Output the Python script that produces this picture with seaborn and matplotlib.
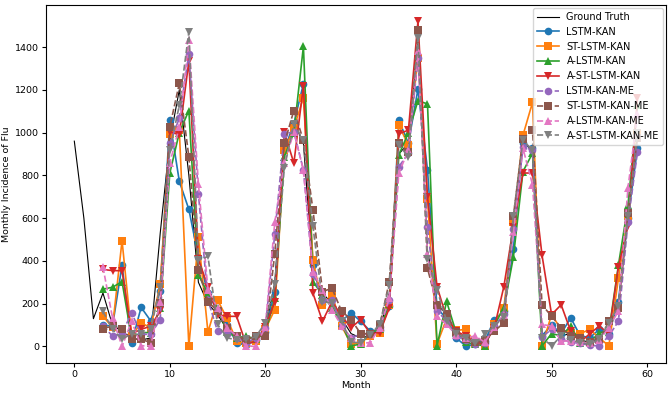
import matplotlib
matplotlib.use("Agg")
import matplotlib.pyplot as plt
import seaborn as sns
import numpy as np

months_truth = list(range(0, 60))
months_pred = list(range(3, 60))

ground_truth = [960, 600, 130, 250, 100, 70, 40, 30, 40, 530,
                960, 1200, 800, 300, 200, 150, 80, 50, 20, 30,
                70, 300, 900, 1050, 950, 350, 250, 200, 130, 60,
                40, 50, 80, 250, 900, 950, 1420, 450, 200, 150,
                60, 40, 20, 30, 90, 150, 600, 950, 920, 50,
                100, 50, 60, 30, 20, 40, 90, 200, 600, 1000]

lstm_kan = [100, 95, 380, 15, 183, 120, 260, 1057, 772, 641,
            418, 250, 165, 100, 18, 5, 30, 70, 257, 920,
            1041, 1229, 380, 200, 226, 120, 157, 118, 72, 75,
            188, 1057, 950, 1203, 826, 180, 130, 40, 3, 10,
            25, 126, 165, 457, 950, 926, 49, 100, 60, 134,
            50, 41, 80, 60, 210, 600, 926]

st_lstm_kan = [141, 90, 495, 50, 110, 88, 290, 995, 1010, 0,
               510, 67, 218, 131, 26, 15, 25, 80, 172, 918,
               1020, 1164, 403, 195, 241, 95, 11, 18, 50, 65,
               195, 1034, 941, 1349, 688, 11, 130, 75, 80, 15,
               3, 105, 180, 580, 987, 1141, 3, 149, 80, 60,
               60, 80, 40, 3, 318, 610, 1000]

a_lstm_kan = [268, 277, 303, 40, 65, 65, 180, 810, 1000, 1103,
              334, 249, 180, 70, 40, 49, 35, 60, 226, 887,
              1000, 1403, 303, 241, 180, 110, 3, 11, 65, 80,
              200, 895, 1000, 1149, 1134, 3, 211, 65, 20, 10,
              3, 100, 180, 418, 818, 903, 3, 60, 50, 95,
              15, 20, 65, 70, 380, 660, 1127]

a_st_lstm_kan = [360, 355, 354, 60, 80, 95, 165, 1003, 990, 1334,
                 407, 280, 149, 141, 141, 10, 25, 90, 210, 1003,
                 857, 1218, 249, 118, 210, 141, 88, 126, 60, 65,
                 180, 995, 1011, 1520, 700, 280, 134, 72, 49, 20,
                 10, 88, 280, 560, 811, 811, 426, 149, 195, 72,
                 20, 60, 95, 60, 372, 564, 1164]

lstm_kan_me = [98, 48, 60, 158, 57, 57, 126, 949, 1068, 1369,
               713, 218, 72, 60, 40, 18, 40, 85, 526, 995,
               1003, 826, 341, 218, 218, 95, 41, 57, 60, 90,
               218, 841, 903, 1349, 557, 165, 120, 50, 30, 10,
               15, 95, 150, 549, 934, 918, 45, 80, 34, 20,
               15, 5, 3, 49, 118, 580, 910]

st_lstm_kan_me = [84, 95, 80, 34, 34, 18, 203, 1026, 1230, 887,
                  357, 210, 165, 88, 49, 30, 49, 50, 434, 949,
                  1103, 964, 638, 257, 272, 165, 126, 60, 60, 100,
                  303, 949, 910, 1480, 365, 195, 150, 70, 34, 20,
                  30, 72, 110, 610, 972, 1010, 195, 141, 88, 49,
                  41, 20, 30, 118, 180, 626, 975]

a_lstm_kan_me = [372, 134, 0, 118, 3, 3, 210, 857, 1026, 1433,
                 760, 264, 180, 88, 49, 3, 0, 90, 580, 857,
                 1003, 826, 349, 264, 172, 95, 41, 15, 18, 88,
                 226, 811, 918, 1380, 434, 141, 103, 55, 41, 49,
                 20, 90, 149, 534, 926, 757, 103, 95, 26, 25,
                 20, 15, 30, 88, 165, 741, 1087]

a_st_lstm_kan_me = [164, 80, 34, 60, 57, 80, 280, 918, 1127, 1472,
                    403, 421, 103, 41, 30, 34, 45, 110, 290, 834,
                    1041, 964, 561, 210, 203, 118, 20, 18, 55, 103,
                    288, 941, 887, 1441, 411, 265, 120, 60, 40, 15,
                    57, 95, 140, 610, 964, 918, 40, 3, 49, 30,
                    18, 10, 35, 111, 188, 610, 1000]

series_names = ["LSTM-KAN", "ST-LSTM-KAN", "A-LSTM-KAN", "A-ST-LSTM-KAN",
                "LSTM-KAN-ME", "ST-LSTM-KAN-ME", "A-LSTM-KAN-ME", "A-ST-LSTM-KAN-ME"]
series_values = [lstm_kan, st_lstm_kan, a_lstm_kan, a_st_lstm_kan,
                 lstm_kan_me, st_lstm_kan_me, a_lstm_kan_me, a_st_lstm_kan_me]
markers = ["o", "s", "^", "v", "o", "s", "^", "v"]
styles = ["-", "-", "-", "-", "--", "--", "--", "--"]
colors = sns.color_palette("tab10")[:8]

fig, ax = plt.subplots(figsize=(6.69, 3.93), dpi=100)

sns.lineplot(x=months_truth, y=ground_truth, color="black", linewidth=0.8,
             label="Ground Truth", ax=ax)

for name, vals, mk, ls, c in zip(series_names, series_values, markers, styles, colors):
    sns.lineplot(x=months_pred, y=vals, marker=mk, linestyle=ls, color=c,
                 markersize=5.5, markeredgewidth=0, linewidth=1.2,
                 label=name, ax=ax)

ax.set_xlabel("Month", fontsize=6.8, labelpad=2)
ax.set_ylabel("Monthly Incidence of Flu", fontsize=6.8, labelpad=3)
ax.tick_params(labelsize=6.8, length=3, pad=2)
ax.set_xticks([0, 10, 20, 30, 40, 50, 60])
ax.set_yticks(np.arange(0, 1401, 200))
ax.legend(loc="upper right", fontsize=7, handlelength=2.2,
          labelspacing=0.5, borderpad=0.4, borderaxespad=0.3)

fig.subplots_adjust(left=0.069, right=0.995, top=0.987, bottom=0.077)
fig.savefig("out.png", dpi=100)
